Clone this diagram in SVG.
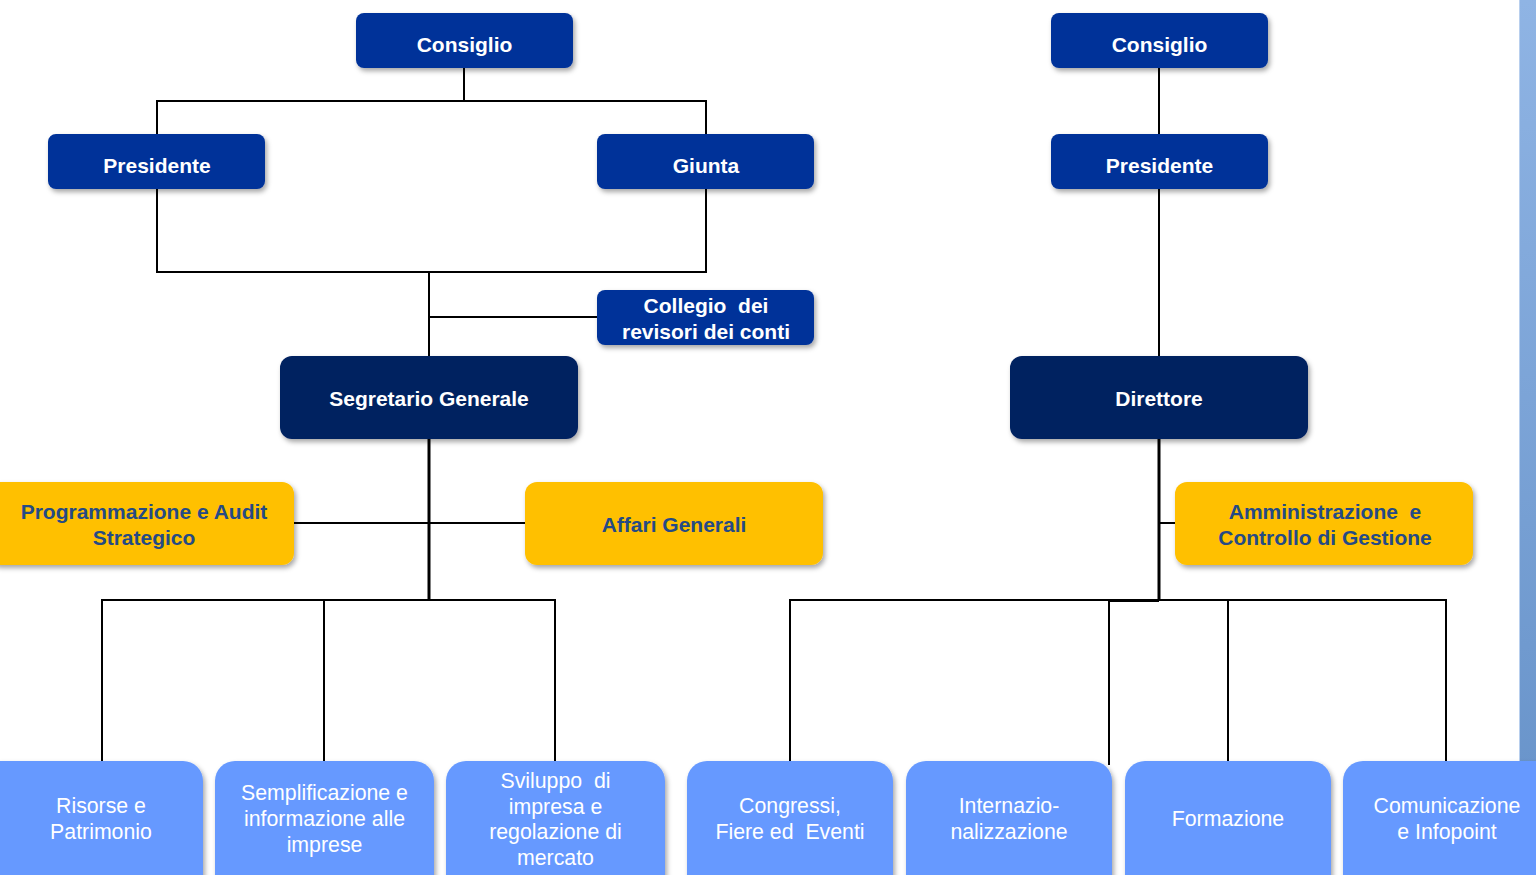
<svg xmlns="http://www.w3.org/2000/svg" width="1536" height="875" viewBox="0 0 1536 875">
<defs>
<filter id="sh" x="-10%" y="-10%" width="125%" height="135%">
<feDropShadow dx="2" dy="3" stdDeviation="2.5" flood-color="#000" flood-opacity="0.35"/>
</filter>
<linearGradient id="bar" x1="0" y1="0" x2="0" y2="1">
<stop offset="0" stop-color="#8FB4E4"/>
<stop offset="1" stop-color="#6A95CB"/>
</linearGradient>
</defs>
<style>
.blue{fill:#003399;filter:url(#sh)}
.navy{fill:#002060;filter:url(#sh)}
.yel{fill:#FFC000;filter:url(#sh)}
.lb{fill:#6699FF;filter:url(#sh)}
text{white-space:pre}
.tw{font-family:"Liberation Sans",Arial,sans-serif;font-size:21px;font-weight:bold;fill:#FFFFFF;text-anchor:middle;dominant-baseline:central}
.ty{font-family:"Liberation Sans",Arial,sans-serif;font-size:21px;font-weight:bold;fill:#254A85;text-anchor:middle;dominant-baseline:central}
.tl{font-family:"Liberation Sans",Arial,sans-serif;font-size:21.3px;fill:#FFFFFF;text-anchor:middle;dominant-baseline:central}
.ln{fill:none;stroke:#000;stroke-width:2}
.lt{fill:none;stroke:#000;stroke-width:3}
</style>
<rect x="0" y="0" width="1536" height="875" fill="#FFFFFF"/>
<rect x="1519" y="0" width="17" height="770" fill="url(#bar)"/>
<line x1="1519.5" y1="0" x2="1519.5" y2="770" stroke="#B8CFEE" stroke-width="1"/>
<g id="connectors">
<path class="ln" d="M464 68 V101 M157 134 V101 H706 V134"/>
<path class="ln" d="M157 189 V272 H706 V189 M429 272 V356 M429 317 H597"/>
<path class="lt" d="M429 439 V600"/>
<path class="ln" d="M294 523 H525"/>
<path class="ln" d="M102 761 V600 H555 V761 M324 600 V761"/>
<path class="ln" d="M1159 68 V134 M1159 189 V356"/>
<path class="lt" d="M1159 439 V601"/>
<path class="ln" d="M1159 523 H1175"/>
<path class="ln" d="M790 761 V600 H1446 V761 M1109 601 H1159 M1109 600 V765 M1228 600 V761"/>
</g>
<g id="consiglio-1"><rect class="blue" x="356" y="13" width="217" height="55" rx="8"/><text class="tw" x="464.5" y="44">Consiglio</text></g>
<g id="presidente-1"><rect class="blue" x="48" y="134" width="217" height="55" rx="8"/><text class="tw" x="157" y="165">Presidente</text></g>
<g id="giunta"><rect class="blue" x="597" y="134" width="217" height="55" rx="8"/><text class="tw" x="706" y="165">Giunta</text></g>
<g id="collegio"><rect class="blue" x="597" y="290" width="217" height="55" rx="8"/><text class="tw" x="706" y="305">Collegio  dei</text><text class="tw" x="706" y="331">revisori dei conti</text></g>
<g id="segretario"><rect class="navy" x="280" y="356" width="298" height="83" rx="12"/><text class="tw" x="429" y="398">Segretario Generale</text></g>
<g id="programmazione"><rect class="yel" x="-12" y="482" width="306" height="83" rx="12"/><text class="ty" x="144" y="511">Programmazione e Audit</text><text class="ty" x="144" y="537">Strategico</text></g>
<g id="affari"><rect class="yel" x="525" y="482" width="298" height="83" rx="12"/><text class="ty" x="674" y="524">Affari Generali</text></g>
<g id="consiglio-2"><rect class="blue" x="1051" y="13" width="217" height="55" rx="8"/><text class="tw" x="1159.5" y="44">Consiglio</text></g>
<g id="presidente-2"><rect class="blue" x="1051" y="134" width="217" height="55" rx="8"/><text class="tw" x="1159.5" y="165">Presidente</text></g>
<g id="direttore"><rect class="navy" x="1010" y="356" width="298" height="83" rx="12"/><text class="tw" x="1159" y="398">Direttore</text></g>
<g id="amministrazione"><rect class="yel" x="1175" y="482" width="298" height="83" rx="12"/><text class="ty" x="1325" y="511">Amministrazione  e</text><text class="ty" x="1325" y="537">Controllo di Gestione</text></g>
<g id="risorse"><rect class="lb" x="-20" y="761" width="223" height="140" rx="20"/><text class="tl" x="101" y="806">Risorse e</text><text class="tl" x="101" y="832">Patrimonio</text></g>
<g id="semplificazione"><rect class="lb" x="215" y="761" width="219" height="140" rx="20"/><text class="tl" x="324.5" y="793">Semplificazione e</text><text class="tl" x="324.5" y="819">informazione alle</text><text class="tl" x="324.5" y="845">imprese</text></g>
<g id="sviluppo"><rect class="lb" x="446" y="761" width="219" height="140" rx="20"/><text class="tl" x="555.5" y="781">Sviluppo  di</text><text class="tl" x="555.5" y="806.5">impresa e</text><text class="tl" x="555.5" y="832">regolazione di</text><text class="tl" x="555.5" y="857.5">mercato</text></g>
<g id="congressi"><rect class="lb" x="687" y="761" width="206" height="140" rx="20"/><text class="tl" x="790" y="806">Congressi,</text><text class="tl" x="790" y="832">Fiere ed  Eventi</text></g>
<g id="internazionalizzazione"><rect class="lb" x="906" y="761" width="206" height="140" rx="20"/><text class="tl" x="1009" y="806">Internazio-</text><text class="tl" x="1009" y="832">nalizzazione</text></g>
<g id="formazione"><rect class="lb" x="1125" y="761" width="206" height="140" rx="20"/><text class="tl" x="1228" y="819">Formazione</text></g>
<g id="comunicazione"><rect class="lb" x="1343" y="761" width="220" height="140" rx="20"/><text class="tl" x="1447" y="806">Comunicazione</text><text class="tl" x="1447" y="832">e Infopoint</text></g>
</svg>
